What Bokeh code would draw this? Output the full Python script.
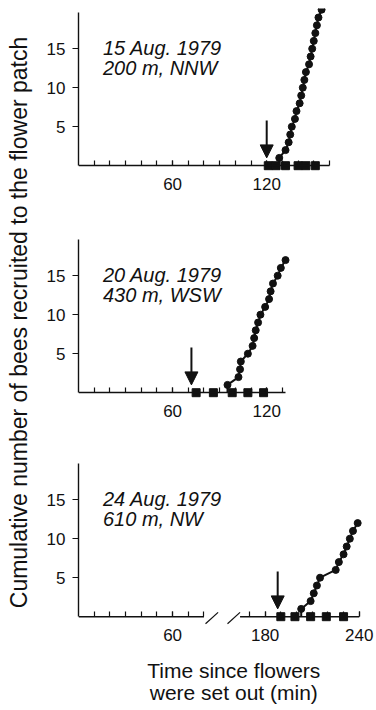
import math
from bokeh.plotting import figure
from bokeh.layouts import row, column
from bokeh.models import Range1d, FixedTicker, Arrow, NormalHead, ColumnDataSource
from bokeh.core.properties import value
from bokeh.embed import file_html
from bokeh.resources import INLINE

# ---------------- data (minutes since flowers were set out) ----------------
p1_times = [128, 132, 134, 135, 136, 138, 139, 141, 142, 143, 144, 145, 147, 148, 149, 150, 151, 152, 153, 155]
p1_counts = [1, 2, 3, 4, 5, 6, 7, 8, 9, 10, 11, 12, 13, 14, 15, 16, 17, 18, 19, 20]
p1_squares = [121, 126, 132, 140, 145, 151]
p1_arrow = 120
p1_text = ["15 Aug. 1979", "200 m, NNW"]

p2_times = [95, 102, 103, 103.5, 108, 111, 112, 113, 114.5, 116, 119, 121.5, 122.5, 124, 127, 129, 132]
p2_counts = [1, 2, 3, 4, 5, 6, 7, 8, 9, 10, 11, 12, 13, 14, 15, 16, 17]
p2_squares = [75, 86, 98, 108, 118]
p2_arrow = 72
p2_text = ["20 Aug. 1979", "430 m, WSW"]

p3_times = [203, 209, 211, 213, 215, 225, 227, 230, 232, 234, 236, 239]
p3_counts = [1, 2, 3, 4, 5, 6, 7, 8, 9, 10, 11, 12]
p3_squares = [190, 199, 209, 219, 230]
p3_arrow = 188
p3_text = ["24 Aug. 1979", "610 m, NW"]

y_ticks = [5, 10, 15]
x_ticks_p12 = [60, 120]
x_ticks_p3 = [60, 180, 240]

y_label = "Cumulative number of bees recruited to the flower patch"
x_label = ["Time since flowers", "were set out (min)"]

# broken axis in panel 3: minutes 87..163 are cut out
CUT = 61          # minutes removed from the right part of panel 3
LEFT_END = 80     # end of left axis segment (min)
RIGHT_START = 164 # start of right axis segment (min)

FONT = "Liberation Sans"
INK = "#111111"
XR = (0, 190)
Y_TOP = 20.154
PX_PER_UNIT = 7.8
LEFT_BORDER = 42
FRAME_W = 298


def shift3(t):
    return t - CUT if t > 100 else t


def make_panel(times, counts, squares, arrow_t, texts, height, top,
               x_bounds, majors, minors, overrides=None, draw_axis_line=True):
    frame_h = height - top
    y_bottom = Y_TOP - frame_h / PX_PER_UNIT
    p = figure(width=LEFT_BORDER + FRAME_W, height=height, x_range=Range1d(*XR),
               y_range=Range1d(y_bottom, Y_TOP),
               output_backend="svg", toolbar_location=None,
               min_border_left=LEFT_BORDER, min_border_right=0, min_border_top=top,
               min_border_bottom=0)
    p.outline_line_color = None
    p.grid.visible = False
    p.background_fill_color = "white"

    xa = p.xaxis[0]
    xa.fixed_location = 0
    xa.bounds = x_bounds
    xa.ticker = FixedTicker(ticks=majors, minor_ticks=minors)
    xa.major_tick_in = 5
    xa.major_tick_out = 0
    xa.minor_tick_in = 5
    xa.minor_tick_out = 0
    xa.major_tick_line_width = 1.2
    xa.minor_tick_line_width = 1.2
    xa.major_tick_line_color = INK
    xa.minor_tick_line_color = INK
    xa.axis_line_width = 1.4
    xa.axis_line_color = INK if draw_axis_line else None
    xa.major_label_text_font = FONT
    xa.major_label_text_font_size = "17px"
    xa.major_label_text_color = INK
    xa.major_label_standoff = 12
    if overrides:
        xa.major_label_overrides = overrides

    ya = p.yaxis[0]
    ya.bounds = (0, 19.7)
    ya.ticker = FixedTicker(ticks=y_ticks, minor_ticks=[])
    ya.major_tick_in = 0
    ya.major_tick_out = 6
    ya.major_tick_line_width = 1.2
    ya.major_tick_line_color = INK
    ya.axis_line_width = 1.4
    ya.axis_line_color = INK
    ya.major_label_text_font = FONT
    ya.major_label_text_font_size = "17px"
    ya.major_label_text_color = INK
    ya.major_label_standoff = 7

    # curve (starts from the axis at the first arrival)
    lx = [times[0]] + list(times)
    ly = [0] + list(counts)
    p.line(lx, ly, line_color=INK, line_width=2)
    p.scatter(times, counts, marker="circle", size=7, fill_color=INK, line_color=INK)
    p.scatter(squares, [0] * len(squares), marker="square", size=8,
              fill_color=INK, line_color=INK)

    p.add_layout(Arrow(end=NormalHead(size=13, fill_color=INK, line_color=INK),
                       x_start=arrow_t, y_start=5.8, x_end=arrow_t, y_end=1.0,
                       line_color=INK, line_width=2))

    src = ColumnDataSource(dict(x=[15.6, 15.6], y=[15.1, 12.5], t=texts))
    p.text("x", "y", text="t", source=src, text_font=value(FONT), text_font_style="italic",
           text_font_size="20px", text_color=INK, text_align="left", text_baseline="middle")
    return p


f1 = make_panel(p1_times, p1_counts, p1_squares, p1_arrow, p1_text, 235, 8,
                (0, 160), x_ticks_p12, list(range(10, 161, 10)))
f2 = make_panel(p2_times, p2_counts, p2_squares, p2_arrow, p2_text, 224, 0,
                (0, 132), x_ticks_p12, list(range(10, 131, 10)))

t3 = [shift3(t) for t in p3_times]
s3 = [shift3(t) for t in p3_squares]
maj3 = [shift3(t) for t in x_ticks_p3]
min3 = list(range(10, LEFT_END + 1, 10)) + [shift3(t) for t in range(170, 241, 10)]
ovr3 = {shift3(t): str(t) for t in x_ticks_p3}
f3 = make_panel(t3, p3_counts, s3, shift3(p3_arrow), p3_text, 251, 0,
                (0, shift3(240)), maj3, min3, overrides=ovr3, draw_axis_line=False)
# broken axis line drawn as two segments plus two slashes
f3.segment(x0=[0, shift3(RIGHT_START)], y0=[0, 0], x1=[LEFT_END, shift3(240)], y1=[0, 0],
           line_color=INK, line_width=1.4)
f3.segment(x0=[LEFT_END + 1, shift3(RIGHT_START) - 8], y0=[-0.9, -0.9],
           x1=[LEFT_END + 9, shift3(RIGHT_START)], y1=[0.55, 0.55],
           line_color=INK, line_width=1.2)

tsrc = ColumnDataSource(dict(x=[99, 99], y=[-6.9, -9.7], t=x_label))
f3.text("x", "y", text="t", source=tsrc, text_font=value(FONT), text_font_size="21px",
        text_color=INK, text_align="center", text_baseline="middle")

H = 235 + 224 + 251
fl = figure(width=36, height=H, x_range=Range1d(0, 36), y_range=Range1d(0, H),
            output_backend="svg", toolbar_location=None, min_border=0)
fl.axis.visible = False
fl.grid.visible = False
fl.outline_line_color = None
fl.text(x=[18], y=[H - 322], text=[y_label], angle=math.pi / 2,
        text_font=value(FONT), text_font_size="23px", text_color=INK,
        text_align="center", text_baseline="middle")

layout = row(fl, column(f1, f2, f3))
open("out.html", "w").write(file_html(layout, INLINE))
